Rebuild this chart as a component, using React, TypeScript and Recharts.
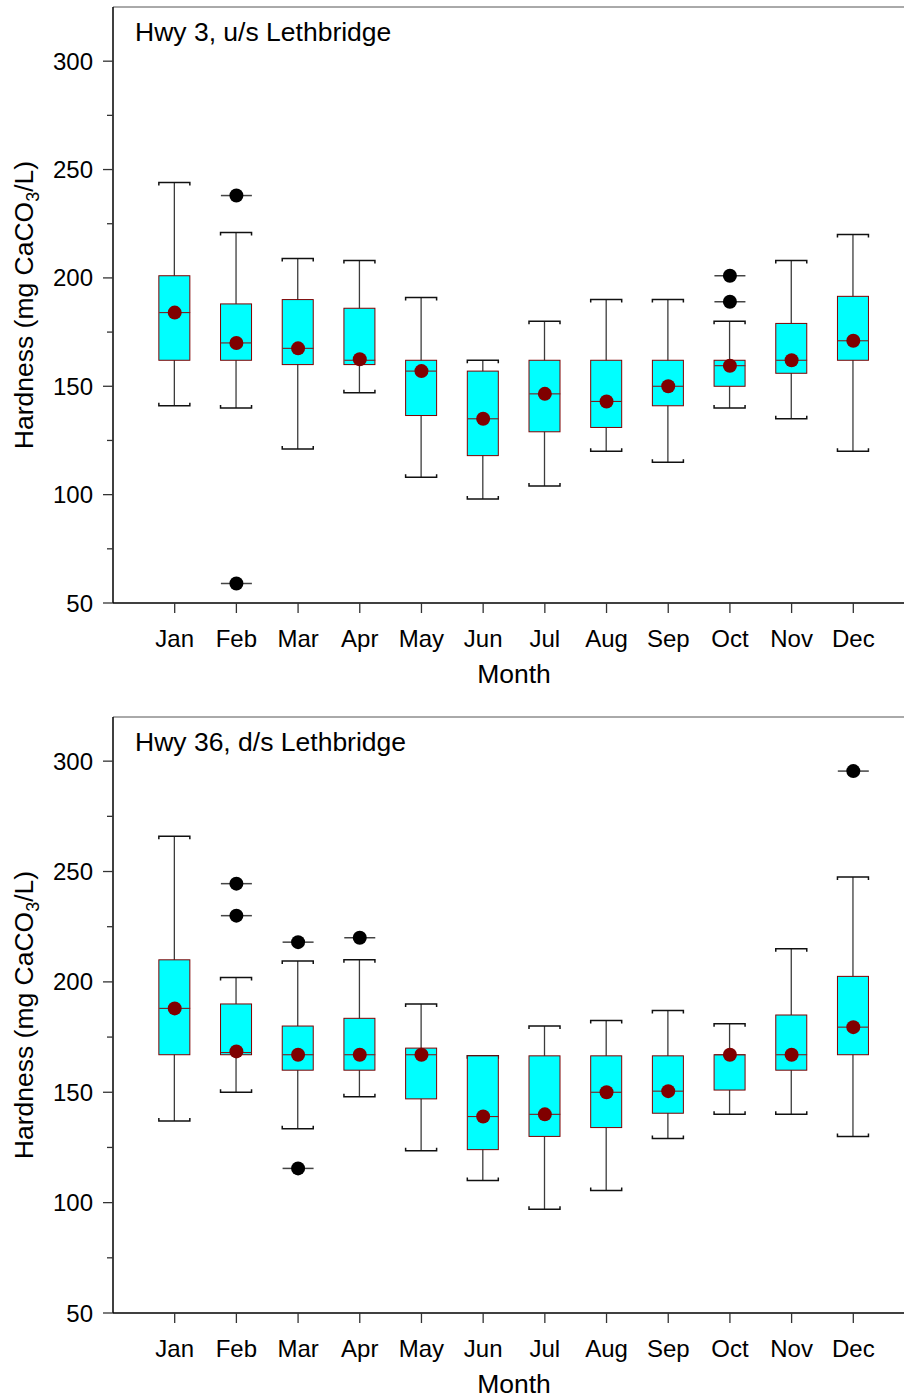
import { ComposedChart, Bar, Scatter, XAxis, YAxis, ReferenceLine } from "recharts";

const FONT = "'Liberation Sans', Arial, Helvetica, sans-serif";

const months = ["Jan", "Feb", "Mar", "Apr", "May", "Jun", "Jul", "Aug", "Sep", "Oct", "Nov", "Dec"];

// Hwy 3, upstream of Lethbridge
const upLow = [141, 140, 121, 147, 108, 98, 104, 120, 115, 140, 135, 120];
const upQ1 = [162, 162, 160, 160, 136.5, 118, 129, 131, 141, 150, 156, 162];
const upMedian = [184, 170, 167.5, 162, 157, 135, 146.5, 143, 150, 159.5, 162, 171];
const upQ3 = [201, 188, 190, 186, 162, 157, 162, 162, 162, 162, 179, 191.5];
const upHigh = [244, 221, 209, 208, 191, 162, 180, 190, 190, 180, 208, 220];
const upMean = [184, 170, 167.5, 162.5, 157, 135, 146.5, 143, 150, 159.5, 162, 171];
const upOut1 = [null, 238, null, null, null, null, null, null, null, 201, null, null];
const upOut2 = [null, 59, null, null, null, null, null, null, null, 189, null, null];

// Hwy 36, downstream of Lethbridge
const dnLow = [137, 150, 133.5, 148, 123.5, 110, 97, 105.5, 129, 140, 140, 130];
const dnQ1 = [167, 167, 160, 160, 147, 124, 130, 134, 140.5, 151, 160, 167];
const dnMedian = [188, 168, 167, 167, 167, 139, 140, 150, 150.5, 167, 167, 179.5];
const dnQ3 = [210, 190, 180, 183.5, 170, 166.5, 166.5, 166.5, 166.5, 167, 185, 202.5];
const dnHigh = [266, 202, 209.5, 210, 190, 166.5, 180, 182.5, 187, 181, 215, 247.5];
const dnMean = [188, 168.5, 167, 167, 167, 139, 140, 150, 150.5, 167, 167, 179.5];
const dnOut1 = [null, 244.5, 218, 220, null, null, null, null, null, null, null, 295.5];
const dnOut2 = [null, 230, 115.5, null, null, null, null, null, null, null, null, null];

const yTicks = [50, 75, 100, 125, 150, 175, 200, 225, 250, 275, 300];

type Stats = {
  low: number[]; q1: number[]; median: number[]; q3: number[]; high: number[];
  mean: number[]; out1: (number | null)[]; out2: (number | null)[];
};

function buildRows(s: Stats) {
  return months.map((month, i) => ({
    month,
    whisker: [s.low[i], s.high[i]],
    box: [s.q1[i], s.q3[i]],
    median: s.median[i],
    mean: s.mean[i],
    out1: s.out1[i],
    out2: s.out2[i],
  }));
}

const upRows = buildRows({ low: upLow, q1: upQ1, median: upMedian, q3: upQ3, high: upHigh, mean: upMean, out1: upOut1, out2: upOut2 });
const dnRows = buildRows({ low: dnLow, q1: dnQ1, median: dnMedian, q3: dnQ3, high: dnHigh, mean: dnMean, out1: dnOut1, out2: dnOut2 });

const ok = (...v: any[]) => v.every((n) => typeof n === "number" && Number.isFinite(n));

function Whisker(p: any) {
  const { x, y, width, height } = p;
  if (!ok(x, y, width, height)) return <g />;
  const top = Math.min(y, y + height);
  const bot = Math.max(y, y + height);
  const cx = x + width / 2;
  return (
    <g>
      <line x1={cx} x2={cx} y1={top} y2={bot} stroke="#3c3c3c" strokeWidth={1.3} />
      <path d={`M${x},${top + 3}V${top}H${x + width}V${top + 3}`} fill="none" stroke="#111" strokeWidth={1.5} />
      <path d={`M${x},${bot - 3}V${bot}H${x + width}V${bot - 3}`} fill="none" stroke="#111" strokeWidth={1.5} />
    </g>
  );
}

function Box(p: any) {
  const { x, y, width, height } = p;
  if (!ok(x, y, width, height)) return <g />;
  return (
    <rect x={x} y={Math.min(y, y + height)} width={width} height={Math.abs(height)}
      fill="#00ffff" stroke="#800000" strokeWidth={1} />
  );
}

function MedianLine(p: any) {
  const { cx, cy } = p;
  if (!ok(cx, cy)) return <g />;
  return <line x1={cx - 15.5} x2={cx + 15.5} y1={cy} y2={cy} stroke="#7a1f1f" strokeWidth={1.1} />;
}

function MeanDot(p: any) {
  const { cx, cy } = p;
  if (!ok(cx, cy)) return <g />;
  return <circle cx={cx} cy={cy} r={7} fill="#800000" />;
}

function Outlier(p: any) {
  const { cx, cy, payload } = p;
  if (!ok(cx, cy) || payload == null) return <g />;
  return (
    <g>
      <line x1={cx - 15.5} x2={cx + 15.5} y1={cy} y2={cy} stroke="#444" strokeWidth={1.5} />
      <circle cx={cx} cy={cy} r={7} fill="#000" />
    </g>
  );
}

function XTick(p: any) {
  const { x, y, payload } = p;
  return (
    <g>
      <line x1={x} x2={x} y1={y} y2={y + 10} stroke="#333" strokeWidth={1.3} />
      <text x={x} y={y + 44} textAnchor="middle" fontSize={24} fontFamily={FONT} fill="#000">
        {payload.value}
      </text>
    </g>
  );
}

function YTick(p: any) {
  const { x, y, payload } = p;
  const major = payload.value % 50 === 0;
  return (
    <g>
      <line x1={x - (major ? 10 : 6)} x2={x} y1={y} y2={y} stroke="#333" strokeWidth={1.3} />
      {major && (
        <text x={x - 20} y={y + 8.5} textAnchor="end" fontSize={24} fontFamily={FONT} fill="#000">
          {payload.value}
        </text>
      )}
    </g>
  );
}

function YLabel(p: any) {
  const vb = p.viewBox || { x: 0, y: 7, width: 113, height: 596 };
  const x = vb.x + 33;
  const y = vb.y + vb.height / 2;
  return (
    <text x={x} y={y} transform={`rotate(-90 ${x} ${y})`} textAnchor="middle"
      fontSize={26.5} fontFamily={FONT} fill="#000">
      Hardness (mg CaCO<tspan fontSize={18} dy={6}>3</tspan><tspan dy={-6}>/L)</tspan>
    </text>
  );
}

function XLabel(p: any) {
  const vb = p.viewBox || { x: 113, y: 603, width: 802, height: 107 };
  return (
    <text x={vb.x + vb.width / 2} y={vb.y + 80} textAnchor="middle" fontSize={26.5} fontFamily={FONT} fill="#000">
      Month
    </text>
  );
}

const PAD = { left: 30.85, right: 30.85 };

function Panel({ title, rows, yMax, top }: { title: string; rows: any[]; yMax: number; top: number }) {
  return (
    <div style={{ position: "absolute", left: 0, top, width: 930, height: 710 }}>
      <ComposedChart width={930} height={710} data={rows} margin={{ top: 7, right: 15, bottom: 0, left: 0 }}>
        <XAxis dataKey="month" type="category" padding={PAD} height={107} interval={0}
          tickSize={0} tickMargin={0} tickLine={false}
          axisLine={{ stroke: "#000", strokeWidth: 1.5 }}
          tick={(t: any) => <XTick {...t} />} label={(l: any) => <XLabel {...l} />} />
        <XAxis xAxisId="w" dataKey="month" type="category" padding={PAD} hide />
        <YAxis type="number" domain={[50, yMax]} ticks={yTicks} width={113} interval={0}
          tickSize={0} tickMargin={0} tickLine={false} allowDataOverflow
          axisLine={{ stroke: "#000", strokeWidth: 1.5 }}
          tick={(t: any) => <YTick {...t} />} label={(l: any) => <YLabel {...l} />} />
        <ReferenceLine y={yMax} stroke="#555" strokeWidth={1} />
        <Bar xAxisId="w" dataKey="whisker" barSize={31} shape={(b: any) => <Whisker {...b} />} isAnimationActive={false} />
        <Bar dataKey="box" barSize={31} shape={(b: any) => <Box {...b} />} isAnimationActive={false} />
        <Scatter dataKey="median" shape={(s: any) => <MedianLine {...s} />} isAnimationActive={false} />
        <Scatter dataKey="mean" shape={(s: any) => <MeanDot {...s} />} isAnimationActive={false} />
        <Scatter dataKey="out1" shape={(s: any) => <Outlier {...s} />} isAnimationActive={false} />
        <Scatter dataKey="out2" shape={(s: any) => <Outlier {...s} />} isAnimationActive={false} />
      </ComposedChart>
      <div style={{ position: "absolute", left: 135, top: 19, fontFamily: FONT, fontSize: 26.5, lineHeight: "26px", color: "#000", whiteSpace: "nowrap" }}>
        {title}
      </div>
    </div>
  );
}

export default function App() {
  return (
    <div style={{ position: "absolute", left: 0, top: 0, width: 904, height: 1399, overflow: "hidden", background: "#fff" }}>
      <Panel title="Hwy 3, u/s Lethbridge" rows={upRows} yMax={325} top={0} />
      <Panel title="Hwy 36, d/s Lethbridge" rows={dnRows} yMax={320} top={710} />
    </div>
  );
}
